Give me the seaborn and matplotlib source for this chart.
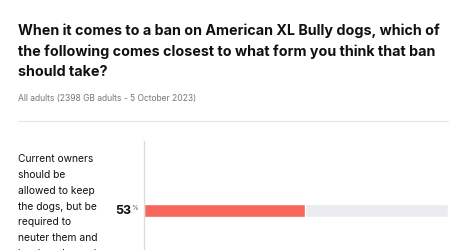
import textwrap

import matplotlib.pyplot as plt
import pandas as pd
import seaborn as sns
from matplotlib.lines import Line2D

# survey data
categories = [
    "Current owners should be allowed to keep the dogs, but be required to "
    "neuter them and leash and muzzle them in public"
]
values = [53]
full_scale = 100

title = (
    "When it comes to a ban on American XL Bully dogs, which of\n"
    "the following comes closest to what form you think that ban\n"
    "should take?"
)
subtitle = "All adults (2398 GB adults - 5 October 2023)"

sns.set_theme(style="white")
plt.rcParams["font.family"] = ["Inter", "DejaVu Sans"]

W, H = 466, 250
fig = plt.figure(figsize=(W / 100, H / 100), dpi=100)
fig.patch.set_facecolor("white")

# axes placed in pixel terms of the reference
left, right, top = 144, 448, 141
ax = fig.add_axes([left / W, 0, (right - left) / W, 1 - top / H])

labels = ["\n".join(textwrap.wrap(c, 16)) for c in categories]
df = pd.DataFrame({"label": labels, "value": values, "track": [full_scale] * len(values)})

sns.barplot(data=df, x="track", y="label", color="#ebecf0", width=0.8, ax=ax, saturation=1)
sns.barplot(data=df, x="value", y="label", color="#f6665a", width=0.8, ax=ax, saturation=1)

ax.set_xlim(0, full_scale)
ax.set_ylim(2.43, -4.28)
ax.set_xlabel("")
ax.set_ylabel("")
ax.set_xticks([])
for s in ["top", "right", "bottom"]:
    ax.spines[s].set_visible(False)
ax.spines["left"].set_color("#dcdcdc")
ax.spines["left"].set_linewidth(1)

ax.tick_params(axis="y", length=0, pad=126 * 0.72)
for lab in ax.get_yticklabels():
    lab.set_ha("left")
    lab.set_fontsize(7.4)
    lab.set_color("#111111")
    lab.set_linespacing(1.72)

for i, v in enumerate(values):
    ax.annotate(str(v), xy=(0, i), xytext=(-13, 0), textcoords="offset pixels",
                ha="right", va="center", fontsize=9, fontweight="bold", color="#111111")
    ax.annotate("%", xy=(0, i), xytext=(-6, 3), textcoords="offset pixels",
                ha="right", va="center", fontsize=4.8, color="#555555")

fig.text(18 / W, 1 - 23 / H, title, ha="left", va="top", fontsize=10.3,
         fontweight="bold", color="#111111", linespacing=1.58)
fig.text(18 / W, 1 - 99 / H, subtitle, ha="left", va="center", fontsize=6.1, color="#777777")
fig.add_artist(Line2D([18 / W, 448 / W], [1 - 121 / H] * 2, color="#e6e6e6", lw=0.8))

fig.savefig("out.png", dpi=100)
